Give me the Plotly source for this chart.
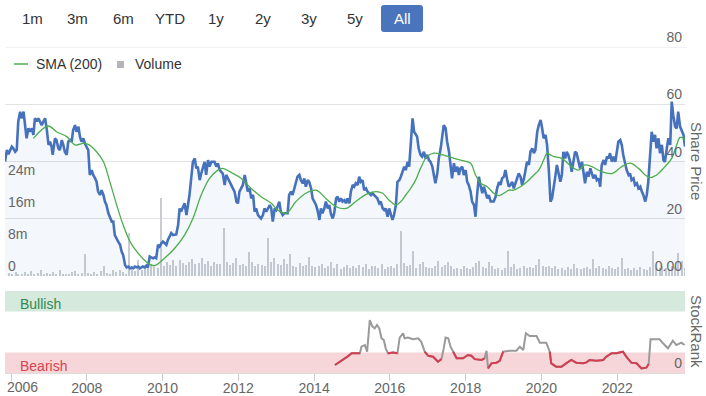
import pandas as pd
import plotly.graph_objects as go

# ---------------- data ----------------
price_years = [2005.84, 2005.89, 2005.93, 2005.97, 2006.02, 2006.06, 2006.11, 2006.15, 2006.19, 2006.24,
               2006.28, 2006.33, 2006.37, 2006.41, 2006.46, 2006.50, 2006.55, 2006.59, 2006.63, 2006.68,
               2006.72, 2006.77, 2006.81, 2006.85, 2006.90, 2006.94, 2006.99, 2007.03, 2007.07, 2007.10,
               2007.16, 2007.20, 2007.25, 2007.29, 2007.34, 2007.38, 2007.42, 2007.47, 2007.51, 2007.56,
               2007.60, 2007.64, 2007.69, 2007.73, 2007.78, 2007.82, 2007.86, 2007.91, 2007.95, 2008.04,
               2008.08, 2008.13, 2008.17, 2008.22, 2008.26, 2008.30, 2008.35, 2008.39, 2008.44, 2008.48,
               2008.52, 2008.57, 2008.61, 2008.66, 2008.70, 2008.74, 2008.83, 2008.88, 2008.92, 2008.96,
               2009.01, 2009.05, 2009.10, 2009.14, 2009.18, 2009.23, 2009.27, 2009.32, 2009.36, 2009.40,
               2009.44, 2009.48, 2009.53, 2009.57, 2009.61, 2009.66, 2009.70, 2009.75, 2009.79, 2009.83,
               2009.88, 2009.92, 2009.97, 2010.01, 2010.10, 2010.14, 2010.23, 2010.28, 2010.36, 2010.41,
               2010.45, 2010.49, 2010.58, 2010.63, 2010.67, 2010.71, 2010.76, 2010.80, 2010.85, 2010.89,
               2010.93, 2010.98, 2011.02, 2011.11, 2011.15, 2011.20, 2011.24, 2011.29, 2011.37, 2011.42,
               2011.46, 2011.51, 2011.59, 2011.64, 2011.68, 2011.73, 2011.77, 2011.81, 2011.90, 2011.95,
               2011.99, 2012.03, 2012.08, 2012.12, 2012.17, 2012.21, 2012.25, 2012.30, 2012.34, 2012.39,
               2012.43, 2012.47, 2012.52, 2012.60, 2012.65, 2012.69, 2012.74, 2012.83, 2012.87, 2012.91,
               2012.96, 2013.00, 2013.04, 2013.08, 2013.12, 2013.17, 2013.21, 2013.30, 2013.34, 2013.39,
               2013.43, 2013.48, 2013.52, 2013.56, 2013.61, 2013.65, 2013.70, 2013.74, 2013.78, 2013.83,
               2013.87, 2013.92, 2013.96, 2014.00, 2014.05, 2014.09, 2014.14, 2014.18, 2014.22, 2014.27,
               2014.31, 2014.36, 2014.40, 2014.44, 2014.49, 2014.53, 2014.58, 2014.62, 2014.66, 2014.71,
               2014.75, 2014.80, 2014.84, 2014.88, 2014.93, 2014.97, 2015.02, 2015.06, 2015.10, 2015.15,
               2015.19, 2015.23, 2015.28, 2015.32, 2015.37, 2015.41, 2015.50, 2015.54, 2015.59, 2015.67,
               2015.72, 2015.76, 2015.81, 2015.85, 2015.89, 2015.94, 2015.98, 2016.03, 2016.07, 2016.11,
               2016.16, 2016.20, 2016.25, 2016.29, 2016.33, 2016.38, 2016.42, 2016.47, 2016.51, 2016.55,
               2016.60, 2016.64, 2016.68, 2016.72, 2016.76, 2016.81, 2016.85, 2016.90, 2016.94, 2016.99,
               2017.03, 2017.07, 2017.12, 2017.16, 2017.20, 2017.25, 2017.29, 2017.34, 2017.38, 2017.42,
               2017.47, 2017.51, 2017.56, 2017.60, 2017.64, 2017.69, 2017.73, 2017.78, 2017.82, 2017.86,
               2017.91, 2017.95, 2018.00, 2018.04, 2018.08, 2018.13, 2018.17, 2018.22, 2018.26, 2018.30,
               2018.35, 2018.39, 2018.44, 2018.48, 2018.52, 2018.57, 2018.61, 2018.66, 2018.74, 2018.79,
               2018.83, 2018.88, 2018.92, 2018.96, 2019.01, 2019.05, 2019.10, 2019.14, 2019.18, 2019.23,
               2019.27, 2019.32, 2019.36, 2019.40, 2019.45, 2019.49, 2019.54, 2019.58, 2019.62, 2019.67,
               2019.71, 2019.76, 2019.80, 2019.84, 2019.89, 2019.93, 2019.98, 2020.02, 2020.06, 2020.11,
               2020.15, 2020.20, 2020.24, 2020.28, 2020.33, 2020.36, 2020.41, 2020.45, 2020.50, 2020.54,
               2020.58, 2020.63, 2020.67, 2020.71, 2020.76, 2020.80, 2020.85, 2020.89, 2020.93, 2020.98,
               2021.02, 2021.07, 2021.11, 2021.15, 2021.20, 2021.24, 2021.29, 2021.33, 2021.37, 2021.42,
               2021.46, 2021.51, 2021.55, 2021.59, 2021.64, 2021.68, 2021.73, 2021.77, 2021.81, 2021.86,
               2021.90, 2021.95, 2021.99, 2022.03, 2022.08, 2022.12, 2022.16, 2022.21, 2022.25, 2022.30,
               2022.34, 2022.38, 2022.43, 2022.47, 2022.52, 2022.56, 2022.61, 2022.65, 2022.69, 2022.74,
               2022.78, 2022.82, 2022.87, 2022.91, 2022.96, 2023.00, 2023.04, 2023.09, 2023.13, 2023.18,
               2023.22, 2023.26, 2023.31, 2023.35, 2023.40, 2023.44, 2023.48, 2023.53, 2023.57, 2023.61,
               2023.66, 2023.70, 2023.75, 2023.79]
price_vals = [40.0, 44.0, 42.5, 44.0, 45.2, 44.6, 43.4, 44.0, 53.9, 57.4,
              55.1, 57.4, 51.6, 48.1, 51.6, 50.4, 51.6, 49.3, 55.1, 54.0,
              55.1, 53.9, 52.7, 53.9, 55.1, 51.6, 45.8, 46.9, 45.2, 42.3,
              48.1, 47.5, 44.6, 44.0, 47.5, 45.8, 43.4, 42.3, 46.9, 47.5,
              46.9, 51.0, 52.7, 50.4, 52.2, 48.7, 46.9, 48.1, 46.3, 44.0,
              35.3, 37.0, 35.3, 34.1, 32.9, 29.5, 28.3, 30.0, 28.3, 26.0,
              24.8, 21.9, 20.7, 19.0, 19.0, 14.3, 12.0, 10.9, 8.5, 7.4,
              3.8, 3.0, 3.3, 2.7, 3.0, 2.7, 3.3, 3.0, 3.3, 2.7,
              3.0, 3.3, 3.0, 3.6, 3.0, 6.8, 6.5, 6.2, 6.5, 6.2,
              10.9, 10.3, 11.5, 12.0, 10.9, 12.6, 15.0, 14.3, 14.5, 17.8,
              23.6, 22.5, 25.4, 21.3, 24.8, 28.3, 34.7, 39.9, 41.1, 37.6,
              38.2, 33.5, 35.8, 39.9, 35.3, 40.5, 38.2, 39.9, 39.9, 38.2,
              39.4, 37.0, 35.8, 31.8, 35.3, 34.1, 32.9, 31.8, 29.5, 26.0,
              25.4, 29.5, 30.6, 31.8, 35.3, 31.8, 29.5, 30.6, 27.1, 28.3,
              22.5, 23.6, 21.3, 20.1, 21.3, 23.6, 22.5, 24.8, 23.6, 19.0,
              23.6, 23.0, 24.8, 26.0, 22.5, 21.3, 21.9, 21.9, 28.3, 29.5,
              28.3, 30.6, 32.9, 34.7, 35.3, 33.5, 32.4, 34.1, 31.2, 33.5,
              32.9, 30.6, 27.1, 26.0, 24.8, 23.0, 19.6, 23.6, 21.9, 23.6,
              26.0, 23.6, 24.8, 21.9, 20.1, 21.9, 27.1, 27.7, 26.0, 27.1,
              26.0, 26.5, 25.4, 27.1, 25.4, 29.5, 31.8, 31.2, 32.4, 31.8,
              34.7, 32.9, 33.5, 30.0, 30.6, 29.5, 28.3, 28.9, 28.3, 27.1,
              25.4, 26.0, 23.6, 23.0, 23.6, 20.7, 23.6, 21.3, 19.6, 21.3,
              24.8, 32.9, 33.5, 34.7, 36.4, 38.2, 37.0, 39.9, 38.2, 45.8,
              55.1, 50.4, 49.3, 48.7, 44.6, 42.3, 41.7, 43.4, 41.1, 42.3,
              40.5, 39.9, 38.2, 35.8, 32.4, 35.8, 41.1, 44.6, 48.1, 52.7,
              51.6, 46.9, 43.4, 37.6, 34.1, 39.4, 36.4, 38.2, 35.3, 37.6,
              38.2, 35.3, 37.0, 32.9, 31.8, 29.5, 26.0, 24.8, 20.7, 28.3,
              34.7, 31.8, 28.9, 31.2, 29.5, 27.1, 28.3, 26.0, 26.0, 27.7,
              30.6, 32.9, 31.8, 34.1, 34.7, 37.0, 33.5, 31.2, 31.8, 32.9,
              30.6, 32.9, 34.1, 35.8, 34.7, 31.8, 34.1, 37.6, 39.9, 38.8,
              43.4, 44.6, 42.9, 44.0, 50.4, 52.7, 54.5, 51.6, 48.1, 49.3,
              45.8, 36.4, 26.0, 27.1, 32.9, 34.1, 38.8, 36.4, 32.9, 35.3,
              43.4, 41.1, 43.4, 42.3, 39.9, 36.4, 39.9, 43.4, 42.9, 39.9,
              37.6, 39.9, 35.3, 32.4, 36.4, 34.7, 37.6, 35.3, 34.1, 35.3,
              33.5, 34.1, 31.2, 38.8, 40.5, 38.8, 41.7, 41.1, 42.9, 39.9,
              41.7, 39.9, 43.4, 46.9, 47.5, 45.8, 42.3, 38.8, 37.0, 35.3,
              35.8, 33.5, 34.1, 31.8, 32.4, 30.6, 31.2, 29.5, 28.3, 26.0,
              28.3, 32.9, 42.3, 50.4, 46.9, 49.3, 44.6, 48.1, 42.9, 45.8,
              40.5, 39.9, 44.6, 48.1, 45.8, 60.9, 56.2, 52.2, 51.6, 57.4,
              52.2, 51.0, 49.3, 45.2]

sma_years = [2006.59, 2006.98, 2007.20, 2007.47, 2007.69, 2007.91, 2008.04, 2008.26, 2008.44, 2008.61,
             2008.79, 2008.96, 2009.14, 2009.32, 2009.61, 2009.79, 2010.05, 2010.32, 2010.58, 2010.80,
             2011.02, 2011.24, 2011.46, 2011.59, 2011.81, 2012.08, 2012.34, 2012.60, 2012.87, 2013.04,
             2013.26, 2013.52, 2013.78, 2014.05, 2014.31, 2014.58, 2014.84, 2015.10, 2015.37, 2015.63,
             2015.81, 2015.98, 2016.16, 2016.29, 2016.42, 2016.55, 2016.68, 2016.81, 2016.98, 2017.16,
             2017.42, 2017.69, 2017.95, 2018.13, 2018.26, 2018.39, 2018.57, 2018.74, 2018.88, 2019.01,
             2019.14, 2019.27, 2019.45, 2019.62, 2019.80, 2019.93, 2020.06, 2020.15, 2020.24, 2020.33,
             2020.54, 2020.80, 2020.98, 2021.15, 2021.33, 2021.59, 2021.86, 2022.12, 2022.34, 2022.56,
             2022.74, 2022.87, 2023.04, 2023.26, 2023.44, 2023.57, 2023.66, 2023.75, 2023.79]
sma_vals = [48.1, 52.4, 50.4, 48.7, 45.8, 46.3, 46.0, 43.4, 39.9, 32.9,
            24.8, 17.8, 12.0, 8.5, 4.5, 3.6, 6.2, 9.7, 14.3, 20.1,
            28.3, 34.1, 37.0, 37.6, 36.2, 34.1, 30.6, 27.7, 25.4, 23.0,
            21.9, 26.0, 28.9, 30.0, 27.1, 24.2, 23.6, 26.0, 28.5, 29.5,
            28.9, 26.5, 24.8, 26.0, 28.3, 30.6, 33.5, 37.6, 41.7, 42.9,
            42.2, 41.1, 40.2, 39.4, 35.3, 32.4, 31.2, 28.9, 28.1, 28.9,
            30.0, 30.0, 31.2, 32.9, 35.3, 37.0, 40.5, 42.9, 42.3, 41.7,
            41.1, 38.2, 37.0, 38.8, 38.2, 36.4, 35.8, 38.2, 39.4, 37.6,
            35.3, 34.4, 35.3, 38.2, 41.1, 45.8, 48.4, 48.1, 47.5]

# monthly volume (millions), Nov 2005 .. Sep 2023
volume_start = "2005-11-15"
volume_m = [0.8, 0.5,
            1.0, 0.3, 0.6, 0.9, 0.4, 1.2, 0.5, 0.7, 1.5, 0.4, 0.8, 0.3,
            1.1, 0.5, 1.6, 0.4, 0.6, 0.3, 0.9, 1.2, 0.5, 0.7, 5.4, 0.8,
            0.6, 1.0, 0.4, 1.3, 2.5, 0.7, 0.5, 1.6, 0.9, 1.4, 1.0, 0.6,
            10.7, 1.8, 1.2, 4.0, 1.5, 2.0, 2.4, 3.1, 2.2, 1.9, 19.5, 2.6,
            3.4, 2.8, 3.9, 2.5, 4.0, 3.2, 2.7, 3.6, 4.2, 2.9, 3.3, 4.4,
            3.0, 3.8, 2.6, 3.4, 2.9, 3.1, 12.0, 3.5, 2.8, 3.2, 4.5, 2.7,
            3.1, 2.6, 6.0, 3.4, 2.5, 3.0, 2.8, 2.4, 9.5, 3.6, 4.6, 2.9,
            2.7, 4.2, 3.1, 5.5, 2.6, 2.3, 3.3, 2.5, 2.8, 4.7, 2.4, 2.2,
            2.6, 3.0, 1.9, 2.4, 3.4, 2.1, 2.9, 1.8, 2.3, 2.7, 2.0, 2.5,
            1.9, 2.8, 2.2, 3.0, 1.7, 2.4, 2.6, 2.0, 3.1, 1.8, 2.2, 2.5,
            2.1, 2.9, 11.2, 3.3, 2.4, 2.7, 6.2, 2.0, 3.1, 3.6, 2.3, 2.0,
            1.9, 2.5, 3.7, 2.2, 2.8, 3.5, 2.4, 1.8, 2.1, 1.7, 2.6, 2.0,
            1.8, 2.3, 3.2, 3.8, 2.2, 1.9, 3.6, 2.4, 1.7, 2.0, 1.6, 2.1,
            6.2, 2.3, 2.9, 1.8, 2.1, 2.6, 1.9, 2.3, 2.0, 2.7, 4.2, 2.5,
            2.2, 2.4, 1.9, 2.6, 1.7, 2.0, 1.6, 2.2, 1.8, 2.9, 1.9, 1.7,
            2.0, 2.3, 1.8, 4.2, 2.1, 2.6, 1.9, 1.7, 2.4, 2.0, 1.8, 2.2,
            4.6, 1.7, 2.0, 1.6, 1.9, 1.5, 2.2, 1.8, 1.6, 2.3, 6.2, 2.1,
            1.9, 2.5, 2.0, 1.8, 2.4, 2.2, 5.8, 3.7, 2.0]

rank_years = [2014.55, 2014.66, 2014.77, 2014.88, 2014.99, 2015.10, 2015.21, 2015.25, 2015.34, 2015.40,
              2015.47, 2015.54, 2015.60, 2015.66, 2015.72, 2015.78, 2015.84, 2015.89, 2015.95, 2016.09,
              2016.20, 2016.26, 2016.35, 2016.39, 2016.48, 2016.61, 2016.75, 2016.83, 2016.92, 2017.01,
              2017.14, 2017.27, 2017.36, 2017.42, 2017.47, 2017.54, 2017.60, 2017.67, 2017.76, 2017.93,
              2018.06, 2018.15, 2018.24, 2018.42, 2018.50, 2018.55, 2018.59, 2018.68, 2018.81, 2018.90,
              2018.99, 2019.16, 2019.34, 2019.43, 2019.52, 2019.59, 2019.69, 2019.87, 2019.96, 2020.13,
              2020.22, 2020.26, 2020.39, 2020.53, 2020.66, 2020.79, 2020.92, 2021.10, 2021.19, 2021.27,
              2021.45, 2021.63, 2021.71, 2021.85, 2021.98, 2022.15, 2022.24, 2022.37, 2022.51, 2022.64,
              2022.77, 2022.83, 2022.88, 2022.99, 2023.12, 2023.21, 2023.34, 2023.47, 2023.56, 2023.69,
              2023.78]
rank_vals = [9.8, 13.0, 16.7, 20.0, 24.0, 24.0, 24.0, 32.1, 34.1, 26.0,
             64.6, 56.7, 54.5, 58.5, 54.5, 42.3, 40.2, 30.1, 24.0, 25.0,
             24.0, 43.1, 48.4, 42.3, 43.2, 41.1, 42.3, 38.0, 26.0, 20.9,
             19.9, 13.8, 16.9, 30.0, 43.2, 42.3, 32.1, 26.0, 17.9, 17.9,
             21.9, 21.0, 16.9, 15.9, 17.9, 27.0, 5.7, 11.8, 12.6, 14.8,
             26.0, 27.0, 27.2, 32.1, 28.0, 48.4, 45.1, 45.1, 37.0, 37.0,
             26.0, 11.8, 7.7, 7.7, 12.0, 15.9, 12.6, 11.8, 13.0, 15.9,
             15.0, 15.9, 19.9, 24.0, 24.0, 26.0, 19.9, 12.6, 11.8, 5.7,
             6.5, 11.0, 41.1, 41.1, 41.1, 36.2, 30.1, 39.4, 34.1, 37.0,
             34.1]

bearish_limit = 25
bullish_limit = 75
buttons = ["1m", "3m", "6m", "YTD", "1y", "2y", "3y", "5y", "All"]
price_ticks = [0, 20, 40, 60, 80]
price_ticktext = ["0.00", "20", "40", "60", "80"]
volume_ticks = [0, 8e6, 16e6, 24e6]
volume_ticktext = ["0", "8m", "16m", "24m"]
year_ticks = ["2006", "2008", "2010", "2012", "2014", "2016", "2018", "2020", "2022"]


def to_date(y):
    yr = int(y)
    return pd.Timestamp(yr, 1, 1) + pd.Timedelta(days=(y - yr) * 365.25)


price_x = [to_date(v) for v in price_years]
sma_x = [to_date(v) for v in sma_years]
rank_x = [to_date(v) for v in rank_years]
vol_x = list(pd.date_range(volume_start, periods=len(volume_m), freq="MS") + pd.Timedelta(days=14))
vol_y = [v * 1e6 for v in volume_m]
rank_red = [v if v <= bearish_limit + 1.5 else None for v in rank_vals]
year_tickvals = [f"{y}-01-01" for y in year_ticks]
# first label is drawn separately (shifted inside the chart, as in the original)
year_ticktext = [""] + year_ticks[1:]

# ---------------- geometry helpers (layout only) ----------------
W, H = 706, 396
L, R, T, B = 5, 21, 47, 23
PW, PH = W - L - R, H - T - B


def px(x):
    return (x - L) / PW


def py(y):
    return (H - B - y) / PH


FONT = "Liberation Sans, Arial, sans-serif"
price_dom = [py(276), 1]
rank_dom = [0, py(291)]
GRID = "#e3e3e3"

fig = go.Figure()
fig.add_trace(go.Bar(x=vol_x, y=vol_y, xaxis="x", yaxis="y", name="Volume",
                     marker=dict(color="#cbccd1", line=dict(width=0)),
                     width=13 * 86400000, showlegend=False))
fig.add_trace(go.Scatter(x=price_x, y=price_vals, xaxis="x", yaxis="y2", name="Share Price",
                         mode="lines", line=dict(color="#4672bd", width=2.6),
                         fill="tozeroy", fillcolor="rgba(70,114,189,0.06)", showlegend=False))
fig.add_trace(go.Scatter(x=sma_x, y=sma_vals, xaxis="x", yaxis="y2", name="SMA (200)",
                         mode="lines", line=dict(color="#4cae4c", width=1.3, shape="spline"),
                         showlegend=False))
fig.add_trace(go.Scatter(x=rank_x, y=rank_vals, xaxis="x", yaxis="y3", name="StockRank",
                         mode="lines", line=dict(color="#9a9a9a", width=2), showlegend=False))
fig.add_trace(go.Scatter(x=rank_x, y=rank_red, xaxis="x", yaxis="y3", name="StockRank (bearish)",
                         mode="lines", line=dict(color="#d23f50", width=2), showlegend=False,
                         connectgaps=False))

shapes = [
    dict(type="rect", xref="paper", yref="y3", x0=0, x1=1, y0=bullish_limit, y1=100,
         fillcolor="#d5e9dd", line=dict(width=0), layer="below"),
    dict(type="rect", xref="paper", yref="y3", x0=0, x1=1, y0=0, y1=bearish_limit,
         fillcolor="#f6d6d9", line=dict(width=0), layer="below"),
    dict(type="line", xref="paper", yref="y2", x0=0, x1=1, y0=80, y1=80,
         line=dict(color=GRID, width=1), layer="below"),
    dict(type="line", xref="paper", yref="y3", x0=0, x1=1, y0=100, y1=100,
         line=dict(color=GRID, width=1), layer="below"),
    # legend symbols
    dict(type="line", xref="paper", yref="paper", x0=px(14), x1=px(28), y0=py(64), y1=py(64),
         line=dict(color="#4cae4c", width=1.5)),
    dict(type="rect", xref="paper", yref="paper", x0=px(117), x1=px(124), y0=py(68), y1=py(61),
         fillcolor="#b4b5bb", line=dict(width=0)),
]

# "All" button background (rounded)
x0p, x1p, y0p, y1p = 381, 423, 5, 32
rad = 3
path = (f"M {x0p+rad},{y0p} L {x1p-rad},{y0p} Q {x1p},{y0p} {x1p},{y0p+rad} L {x1p},{y1p-rad} "
        f"Q {x1p},{y1p} {x1p-rad},{y1p} L {x0p+rad},{y1p} Q {x0p},{y1p} {x0p},{y1p-rad} "
        f"L {x0p},{y0p+rad} Q {x0p},{y0p} {x0p+rad},{y0p} Z")


def conv_path(p):
    out = []
    for tok in p.split(" "):
        if "," in tok:
            a, b = tok.split(",")
            out.append(f"{px(float(a)):.5f},{py(float(b)):.5f}")
        else:
            out.append(tok)
    return " ".join(out)


shapes.append(dict(type="path", xref="paper", yref="paper", path=conv_path(path),
                   fillcolor="#4a74bb", line=dict(width=0)))

annotations = []
btn_x = [32, 77, 124, 170, 216, 263, 309, 355, 402]
for label, bxp in zip(buttons, btn_x):
    annotations.append(dict(x=px(bxp), y=py(18), xref="paper", yref="paper", text=label,
                            showarrow=False, xanchor="center", yanchor="middle",
                            font=dict(family=FONT, size=15,
                                      color="#ffffff" if label == "All" else "#333333")))
annotations += [
    dict(x=px(34), y=py(64), xref="paper", yref="paper", text="SMA (200)", showarrow=False,
         xanchor="left", yanchor="middle", font=dict(family=FONT, size=14, color="#333333")),
    dict(x=px(133), y=py(64), xref="paper", yref="paper", text="Volume", showarrow=False,
         xanchor="left", yanchor="middle", font=dict(family=FONT, size=14, color="#333333")),
    dict(x=px(18), y=py(304), xref="paper", yref="paper", text="Bullish", showarrow=False,
         xanchor="left", yanchor="middle", font=dict(family=FONT, size=14, color="#2f8a4f")),
    dict(x=px(18), y=py(366), xref="paper", yref="paper", text="Bearish", showarrow=False,
         xanchor="left", yanchor="middle", font=dict(family=FONT, size=14, color="#d9434f")),
    dict(x=px(697), y=py(161), xref="paper", yref="paper", text="Share Price", showarrow=False,
         textangle=90, xanchor="center", yanchor="middle",
         font=dict(family=FONT, size=15, color="#666666")),
    dict(x=px(697), y=py(331), xref="paper", yref="paper", text="StockRank", showarrow=False,
         textangle=90, xanchor="center", yanchor="middle",
         font=dict(family=FONT, size=15, color="#666666")),
    dict(x=px(5), y=py(387), xref="paper", yref="paper", text=year_ticks[0], showarrow=False,
         xanchor="left", yanchor="middle", font=dict(family=FONT, size=14, color="#666666")),
]

tickfont = dict(family=FONT, size=14, color="#666666")
fig.update_layout(
    width=W, height=H,
    margin=dict(l=L, r=R, t=T, b=B, pad=0, autoexpand=False),
    paper_bgcolor="white", plot_bgcolor="white",
    showlegend=False,
    bargap=0,
    xaxis=dict(domain=[0, 1], anchor="y3", type="date", automargin=False,
               range=[min(price_x), max(price_x)],
               tickvals=year_tickvals, ticktext=year_ticktext,
               showgrid=False, zeroline=False,
               ticks="outside", ticklen=7, tickcolor="#cccccc",
               ticklabelstandoff=-5,
               showline=True, linecolor="#dddddd",
               tickfont=tickfont, ticklabeloverflow="allow"),
    yaxis=dict(domain=price_dom, anchor="x", side="left", range=[0, 57.25e6],
               tickvals=volume_ticks, ticktext=volume_ticktext, automargin=False,
               ticklabelposition="inside top", ticklabeloverflow="allow",
               showgrid=False, zeroline=False,
               tickfont=tickfont, fixedrange=True),
    yaxis2=dict(domain=price_dom, anchor="x", overlaying="y", side="right", range=[0, 80],
                tickvals=price_ticks, ticktext=price_ticktext, automargin=False,
                ticklabelposition="inside top", ticklabeloverflow="allow",
                showgrid=True, gridcolor=GRID,
                zeroline=False, tickfont=tickfont),
    yaxis3=dict(domain=rank_dom, anchor="x", side="right", range=[0, 100],
                tickvals=[0, 100], ticktext=["0", ""], automargin=False,
                ticklabelposition="inside top", ticklabeloverflow="allow",
                showgrid=True, gridcolor=GRID,
                zeroline=False, tickfont=tickfont),
    shapes=shapes,
    annotations=annotations,
)

# remove the page's default body margin so the 706x396 figure fills the window exactly
fig.write_html("out.html", config={"displayModeBar": False},
               post_script="document.body.style.margin='0';document.body.style.overflow='hidden';")
